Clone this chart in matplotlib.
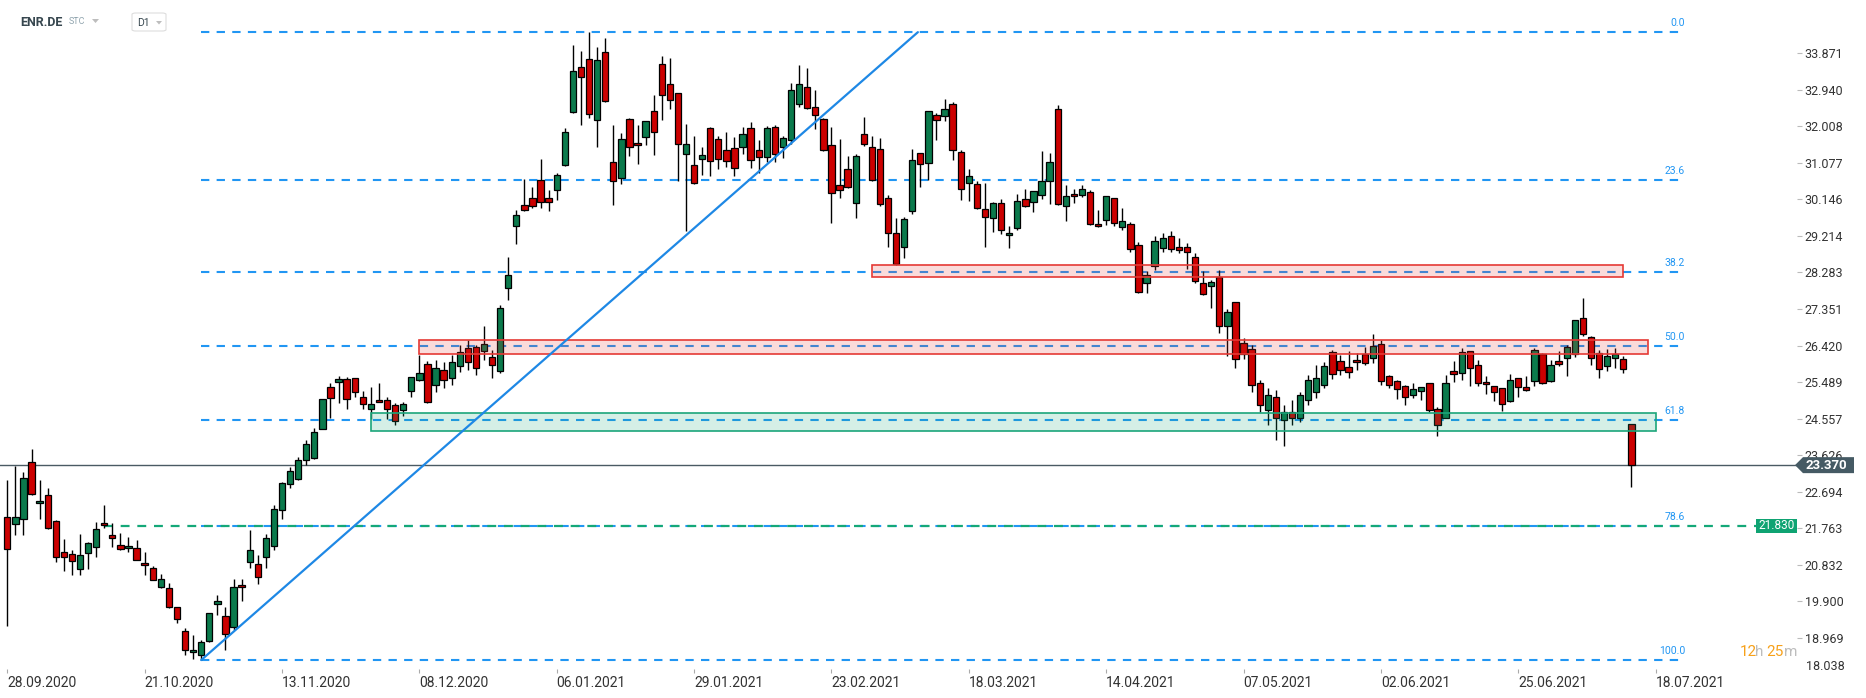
"""ENR.DE daily candles with Fibonacci retracement and zones."""

import matplotlib

matplotlib.use("Agg")
import matplotlib.pyplot as plt
from matplotlib.patches import FancyBboxPatch, Polygon, Rectangle
from matplotlib.transforms import blended_transform_factory

plt.rcParams["font.family"] = ["Roboto", "DejaVu Sans"]

W, H = 1866, 698

# daily OHLC, 28.09.2020 onwards (one entry per session)
opens = [
    22.04, 21.87, 21.99, 23.45, 22.40, 22.61, 21.95, 21.15, 21.10, 20.72,
    21.14, 21.29, 21.89, 21.59, 21.33, 21.25, 21.25, 20.87, 20.74, 20.26,
    20.24, 19.75, 19.14, 18.60, 18.53, 18.89, 19.83, 19.52, 19.24, 20.31,
    20.90, 20.85, 21.02, 21.31, 22.22, 22.89, 23.01, 23.49, 23.54, 24.30,
    25.37, 25.49, 25.56, 25.58, 25.12, 24.80, 25.03, 25.03, 24.90, 24.77,
    25.25, 25.54, 25.94, 25.42, 25.80, 25.59, 25.90, 26.35, 26.38, 26.28,
    26.12, 25.77, 27.88, 29.48, 30.00, 30.18, 30.63, 30.18, 30.38, 31.02,
    32.37, 33.51, 33.72, 32.16, 33.90, 31.11, 30.68, 32.19, 31.58, 31.73,
    32.39, 33.59, 33.08, 32.85, 31.30, 31.02, 31.17, 31.96, 31.68, 31.40,
    31.45, 31.48, 31.96, 31.40, 31.22, 31.99, 31.48, 31.65, 32.57, 33.00,
    32.49, 32.19, 31.53, 30.51, 30.91, 30.05, 31.81, 31.48, 31.42, 30.18,
    29.28, 28.93, 29.84, 31.32, 31.07, 32.29, 32.26, 32.57, 31.35, 30.56,
    30.53, 29.89, 29.67, 30.05, 29.23, 29.41, 30.15, 30.07, 30.25, 30.61,
    32.45, 29.97, 30.28, 30.25, 30.33, 29.51, 29.61, 30.18, 29.44, 29.51,
    28.98, 28.01, 28.44, 28.90, 29.21, 28.93, 28.93, 28.67, 28.01, 27.95,
    28.16, 26.91, 27.52, 26.48, 26.33, 25.47, 24.78, 25.11, 24.52, 24.73,
    24.58, 25.03, 25.24, 25.42, 26.25, 26.02, 25.87, 26.05, 26.20, 26.10,
    26.45, 25.65, 25.51, 25.38, 25.15, 25.26, 25.46, 24.80, 24.57, 25.77,
    25.71, 26.28, 25.92, 25.49, 25.38, 25.33, 25.00, 25.59, 25.36, 25.51,
    26.20, 25.51, 26.02, 26.10, 26.20, 27.11, 26.63, 26.22, 25.89, 26.10,
    26.07, 24.41,
]
highs = [
    23.00, 23.35, 23.19, 23.79, 23.00, 22.78, 21.97, 21.49, 21.21, 21.62,
    21.42, 21.91, 22.36, 21.89, 21.64, 21.53, 21.47, 21.15, 20.79, 20.59,
    20.36, 19.76, 19.21, 19.04, 18.92, 19.61, 20.06, 19.76, 20.46, 20.46,
    21.72, 21.08, 21.61, 22.35, 22.93, 23.33, 23.57, 24.00, 24.31, 25.06,
    25.46, 25.65, 25.61, 25.60, 25.25, 25.36, 25.46, 25.10, 24.95, 24.98,
    25.62, 26.18, 26.03, 26.05, 26.00, 26.18, 26.44, 26.55, 26.44, 26.92,
    26.31, 27.46, 28.67, 29.88, 30.66, 30.46, 31.17, 30.38, 30.81, 31.96,
    34.08, 33.92, 34.41, 34.02, 34.25, 32.04, 31.83, 32.21, 32.04, 32.15,
    32.80, 33.80, 33.74, 32.86, 32.06, 31.76, 31.48, 31.98, 31.77, 31.86,
    31.73, 31.99, 32.11, 31.66, 32.01, 32.04, 31.76, 33.11, 33.57, 33.50,
    32.93, 32.21, 31.99, 31.68, 31.25, 31.30, 32.24, 31.76, 31.70, 30.25,
    29.66, 29.69, 31.42, 31.34, 32.40, 32.34, 32.70, 32.62, 31.40, 30.91,
    30.61, 30.56, 30.07, 30.15, 29.46, 30.28, 30.40, 30.36, 31.37, 31.32,
    32.55, 30.51, 30.40, 30.51, 30.39, 29.87, 30.24, 30.19, 29.92, 29.56,
    29.05, 28.31, 29.21, 29.28, 29.33, 29.16, 29.03, 28.77, 28.31, 28.09,
    28.35, 27.35, 27.54, 26.61, 26.44, 25.54, 25.34, 25.29, 24.91, 25.03,
    25.24, 25.67, 25.93, 26.00, 26.31, 26.18, 26.28, 26.22, 26.38, 26.71,
    26.56, 25.66, 25.54, 25.41, 25.46, 25.37, 25.47, 24.85, 25.66, 26.02,
    26.35, 26.29, 26.05, 25.64, 25.39, 25.34, 25.69, 25.60, 25.64, 26.35,
    26.22, 26.05, 26.28, 26.43, 27.07, 27.63, 26.66, 26.30, 26.33, 26.35,
    26.15, 24.42,
]
lows = [
    19.26, 21.59, 21.59, 22.61, 22.00, 21.74, 20.89, 20.66, 20.57, 20.57,
    20.73, 21.04, 21.76, 21.29, 21.21, 21.15, 20.94, 20.56, 20.44, 20.24,
    19.74, 19.34, 18.53, 18.42, 18.41, 18.86, 19.54, 18.65, 19.17, 19.90,
    20.74, 20.34, 20.74, 21.21, 22.00, 22.78, 22.99, 23.38, 23.52, 24.29,
    24.58, 24.95, 24.80, 25.12, 24.80, 24.54, 24.97, 24.54, 24.39, 24.63,
    25.12, 25.52, 24.96, 25.24, 25.34, 25.42, 25.75, 25.80, 25.67, 26.05,
    25.59, 25.72, 27.58, 29.00, 29.86, 29.92, 29.92, 29.86, 30.12, 31.00,
    32.35, 32.04, 32.21, 31.49, 32.63, 30.00, 30.53, 31.26, 31.04, 31.53,
    31.27, 32.16, 32.44, 30.61, 29.35, 30.53, 30.78, 30.73, 30.91, 30.97,
    30.73, 31.30, 30.94, 30.81, 31.09, 31.09, 31.20, 31.56, 32.50, 32.45,
    31.93, 31.38, 29.54, 30.18, 30.44, 29.67, 31.50, 30.61, 29.97, 28.93,
    28.47, 28.64, 29.77, 30.46, 30.63, 31.65, 32.14, 31.14, 30.12, 30.10,
    29.89, 28.94, 29.31, 29.26, 28.90, 29.36, 29.96, 29.82, 30.15, 30.02,
    30.01, 29.59, 30.05, 30.20, 29.50, 29.45, 29.49, 29.46, 29.36, 28.80,
    27.77, 27.75, 28.34, 28.80, 28.80, 28.77, 28.37, 28.01, 27.72, 27.37,
    26.75, 26.16, 25.84, 26.07, 25.24, 24.73, 24.40, 24.01, 23.86, 24.40,
    24.47, 24.91, 25.08, 25.34, 25.56, 25.67, 25.59, 25.79, 25.92, 25.97,
    25.42, 25.34, 25.05, 24.90, 25.08, 25.03, 24.72, 24.12, 24.56, 25.49,
    25.54, 25.38, 25.38, 25.18, 25.00, 24.75, 24.99, 25.10, 25.26, 25.38,
    25.43, 25.50, 25.89, 25.64, 26.12, 26.66, 25.92, 25.59, 25.77, 25.84,
    25.71, 22.82,
]
closes = [
    21.23, 22.04, 23.04, 22.64, 22.45, 21.76, 21.02, 21.02, 20.92, 21.08,
    21.38, 21.74, 21.84, 21.51, 21.23, 21.31, 20.95, 20.82, 20.45, 20.46,
    19.75, 19.44, 18.65, 18.65, 18.86, 19.60, 19.90, 19.06, 20.26, 20.26,
    21.21, 20.51, 21.51, 22.25, 22.91, 23.23, 23.50, 23.90, 24.21, 25.05,
    25.08, 25.56, 25.05, 25.23, 24.93, 24.92, 24.98, 24.80, 24.49, 24.92,
    25.61, 25.71, 24.98, 25.85, 25.54, 26.00, 26.26, 26.00, 25.85, 26.45,
    25.93, 27.37, 28.21, 29.74, 29.87, 29.97, 30.09, 30.07, 30.76, 31.86,
    33.41, 33.26, 32.32, 33.69, 32.65, 30.61, 31.68, 31.48, 31.53, 32.14,
    31.86, 32.80, 32.67, 31.55, 31.55, 30.56, 31.27, 31.12, 31.17, 31.12,
    30.94, 31.81, 31.14, 31.22, 31.96, 31.30, 31.70, 32.93, 33.08, 32.47,
    32.29, 31.40, 30.30, 30.38, 30.46, 31.25, 31.55, 30.63, 30.02, 29.28,
    28.49, 29.64, 31.14, 31.04, 32.39, 32.16, 32.44, 31.40, 30.40, 30.74,
    29.92, 29.69, 30.05, 29.36, 29.28, 30.10, 29.97, 30.35, 30.61, 31.09,
    30.02, 30.23, 30.23, 30.40, 29.51, 29.46, 30.23, 29.54, 29.59, 28.88,
    27.78, 28.21, 29.08, 29.16, 28.88, 28.85, 28.80, 28.06, 27.73, 28.03,
    26.91, 27.27, 26.07, 26.20, 25.42, 24.91, 25.16, 24.58, 24.73, 24.58,
    25.16, 25.54, 25.59, 25.89, 25.69, 25.79, 25.74, 26.00, 25.97, 26.40,
    25.52, 25.41, 25.30, 25.10, 25.31, 25.36, 24.77, 24.39, 25.46, 25.69,
    26.25, 25.84, 25.46, 25.43, 25.23, 24.92, 25.54, 25.36, 25.28, 26.30,
    25.46, 25.92, 25.94, 26.38, 27.06, 26.71, 26.10, 25.82, 26.15, 26.20,
    25.82, 23.37,
]

date_ticks = [0, 17, 34, 51, 68, 85, 102, 119, 136, 153, 170, 187, 204]
date_labels = [
    "28.09.2020", "21.10.2020", "13.11.2020", "08.12.2020", "06.01.2021",
    "29.01.2021", "23.02.2021", "18.03.2021", "14.04.2021", "07.05.2021",
    "02.06.2021", "25.06.2021", "18.07.2021",
]
price_ticks = [
    33.871, 32.940, 32.008, 31.077, 30.146, 29.214, 28.283, 27.351, 26.420,
    25.489, 24.557, 23.626, 22.694, 21.763, 20.832, 19.900, 18.969,
]
bottom_tick = 18.038

# Fibonacci retracement drawn from the October low to the January high
fib_low, fib_high = 18.40, 34.41
fib_from, fib_to = 24, 207.3
fib_pcts = [0.0, 23.6, 38.2, 50.0, 61.8, 78.6, 100.0]

# zones: (first session, last session, low, high)
red_zones = [(107.0, 200.0, 28.16, 28.47), (51.0, 203.1, 26.20, 26.55)]
green_zone = (45.0, 204.1, 24.24, 24.70)

trend_start = (24, 18.40)
trend_end = (112.7, 34.41)

last_price = 23.370
support = 21.830
support_from, support_to = 12, 216.4

XLIM = (-0.9, 221.5)
YLIM = (18.07, 35.23)

BLUE = "#2196F3"
GREEN_LINE = "#14A878"
UP = "#0B7A4C"
DOWN = "#CC0000"


def fx(px):
    return px / W


def fy(py):
    return 1 - py / H


fig = plt.figure(figsize=(W / 100, H / 100), dpi=100)
ax = fig.add_axes([0, fy(673), fx(1797), 673 / H])
ax.set_xlim(*XLIM)
ax.set_ylim(*YLIM)
for s in ax.spines.values():
    s.set_visible(False)

# Fibonacci levels
span = fib_high - fib_low
dash = (0, (4, 3.5))
for pct in fib_pcts:
    level = fib_high - pct / 100 * span
    ax.hlines(level, fib_from, fib_to, color=BLUE, lw=1.5, linestyles=[dash], zorder=1)
    ax.annotate(f"{pct:.1f}", xy=(fib_to, level), xytext=(2, 3), textcoords="offset points",
                ha="right", va="bottom", fontsize=7.5, color=BLUE)

ax.hlines(support, support_from, support_to, color=GREEN_LINE, lw=1.6, linestyles=[dash], zorder=1.5)
ax.axhline(last_price, color="#4A5A63", lw=1.0, zorder=1.5)

# candles
idx = list(range(len(opens)))
bottoms = [min(o, c) for o, c in zip(opens, closes)]
heights = [max(abs(c - o), 0.03) for o, c in zip(opens, closes)]
colors = [UP if c >= o else DOWN for o, c in zip(opens, closes)]
ax.vlines(idx, lows, highs, color="black", lw=1.0, zorder=2)
ax.bar(idx, heights, bottom=bottoms, width=0.78, color=colors, edgecolor="black",
       linewidth=0.9, zorder=3)

# zones over the candles
for x0, x1, lo, hi in red_zones:
    ax.add_patch(Rectangle((x0, lo), x1 - x0, hi - lo, facecolor=(0.9, 0.22, 0.21, 0.18),
                           edgecolor="#E53935", lw=1.2, zorder=4))
x0, x1, lo, hi = green_zone
ax.add_patch(Rectangle((x0, lo), x1 - x0, hi - lo, facecolor=(0.1, 0.67, 0.47, 0.18),
                       edgecolor="#1BA57A", lw=1.2, zorder=4))

ax.plot([trend_start[0], trend_end[0]], [trend_start[1], trend_end[1]], color="#1E88E5",
        lw=1.6, zorder=5, solid_capstyle="round")

# axes ticks
ax.set_xticks(date_ticks)
ax.set_xticklabels(date_labels, ha="left", family=["Liberation Sans Narrow", "Roboto"])
ax.tick_params(axis="x", direction="in", length=3, width=0.8, color="#AAAAAA", pad=2,
               labelsize=10, labelcolor="#333333")
ax.yaxis.tick_right()
ax.set_yticks(price_ticks)
ax.set_yticklabels([f"{p:.3f}" for p in price_ticks])
ax.tick_params(axis="y", direction="out", length=3.6, width=0.8, color="#BBBBBB", pad=2,
               labelsize=9, labelcolor="#333333")
fig.text(fx(1806), fy(667), f"{bottom_tick:.3f}", fontsize=9, color="#333333", va="center")

# price labels on the right
trans = blended_transform_factory(fig.transFigure, ax.transData)
box_h = 16 / 39.22
fig.add_artist(Polygon([(fx(1795), last_price), (fx(1803), last_price + box_h / 2),
                        (fx(1854), last_price + box_h / 2), (fx(1854), last_price - box_h / 2),
                        (fx(1803), last_price - box_h / 2)],
                       closed=True, facecolor="#455A64", edgecolor="none", transform=trans))
fig.text(fx(1806), last_price, f"{last_price:.3f}", transform=trans, fontsize=9.5,
         color="white", fontweight="bold", va="center")
gh = 14 / 39.22
fig.add_artist(Rectangle((fx(1756), support - gh / 2), fx(41), gh, facecolor="#0FA372",
                         edgecolor="none", transform=trans))
fig.text(fx(1776.5), support, f"{support:.3f}", transform=trans, fontsize=8.5, color="white",
         ha="center", va="center")

# countdown
for txt, px, col in [("12", 1740, "#F7A11A"), ("h", 1755, "#BDBDBD"),
                     ("25", 1766, "#F7A11A"), ("m", 1784, "#BDBDBD")]:
    fig.text(fx(px), fy(652), txt, fontsize=11, color=col, va="center")

# header
fig.text(fx(20), fy(22), "ENR.DE", fontsize=9, fontweight="bold", color="#37474F", va="center")
fig.text(fx(69), fy(22), "STC", fontsize=6.5, color="#90A4AE", va="center")
fig.add_artist(Polygon([(fx(92), fy(19)), (fx(99), fy(19)), (fx(95.5), fy(23))],
                       closed=True, facecolor="#BDBDBD", edgecolor="none",
                       transform=fig.transFigure))
fig.add_artist(FancyBboxPatch((fx(132), fy(31)), fx(34), 18 / H,
                              boxstyle="round,pad=0,rounding_size=0.002",
                              facecolor="white", edgecolor="#DDDDDD", lw=0.8,
                              transform=fig.transFigure))
fig.text(fx(137), fy(22.5), "D1", fontsize=7.5, color="#37474F", va="center")
fig.add_artist(Polygon([(fx(156), fy(21)), (fx(162), fy(21)), (fx(159), fy(24.5))],
                       closed=True, facecolor="#BDBDBD", edgecolor="none",
                       transform=fig.transFigure))

fig.savefig("out.png", dpi=100)
